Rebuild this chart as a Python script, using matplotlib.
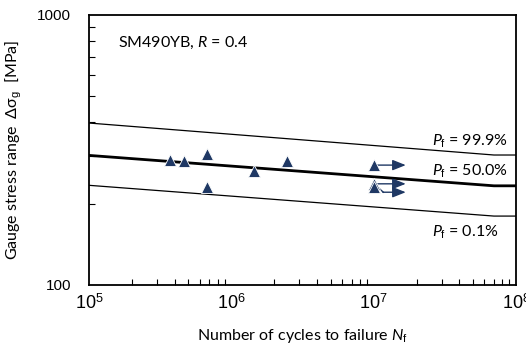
import numpy as np
import matplotlib
matplotlib.use("Agg")
import matplotlib.pyplot as plt
from matplotlib.ticker import LogLocator, NullFormatter, FixedLocator

# ---- data ----
fail_N = [3.7e5, 4.65e5, 6.7e5, 1.45e6, 2.47e6, 6.7e5]
fail_S = [290, 288, 305, 264, 289, 231]
runout_N = [1.0e7, 1.0e7, 1.0e7]
runout_S = [278, 237, 231]
curve_N = [1e5, 7e7, 1e8]
curve_999 = [398, 303, 303]
curve_500 = [302, 233, 233]
curve_001 = [234, 180, 180]
curve_labels = ["99.9%", "50.0%", "0.1%"]

navy = "#1F3864"
lab_font = ["Lato", "DejaVu Sans"]
tick_font = "Liberation Sans"
plt.rcParams["mathtext.fontset"] = "custom"
plt.rcParams["mathtext.rm"] = tick_font
plt.rcParams["mathtext.it"] = "Lato:italic"

fig = plt.figure(figsize=(5.26, 3.5), dpi=100)
ax = fig.add_axes([89/526, 65/350, 427/526, 270/350])
ax.set_xscale("log")
ax.set_yscale("log")
ax.set_xlim(1e5, 1e8)
ax.set_ylim(100, 1000)

ax.plot(curve_N, curve_999, color="black", lw=0.9)
ax.plot(curve_N, curve_500, color="black", lw=2.0)
ax.plot(curve_N, curve_001, color="black", lw=0.9)

# runout arrows
arr_len = 1.68
aprops = dict(arrowstyle="-|>,head_length=0.8,head_width=0.32",
              color=navy, lw=1.0, shrinkA=0, shrinkB=0)
for i, (n, s) in enumerate(zip(runout_N, runout_S)):
    if i == 2:
        ax.plot([n * 1.06, n * 1.17], [s, s * 0.955], color=navy, lw=1.0)
        ax.annotate("", xy=(n * arr_len, s * 0.955), xytext=(n * 1.16, s * 0.955),
                    arrowprops=aprops)
    else:
        ax.annotate("", xy=(n * arr_len, s), xytext=(n * 1.05, s),
                    arrowprops=aprops)

ax.plot(fail_N, fail_S, linestyle="none", marker="^", ms=8.5, color=navy,
        mec="white", mew=0.6, zorder=5)
ax.plot(runout_N, runout_S, linestyle="none", marker="^", ms=8.5, color=navy,
        mec="white", mew=0.6, zorder=5)

# curve labels
for lab, yy in zip(curve_labels, [0.516, 0.405, 0.18]):
    ax.text(0.803, yy, r"$P_{\mathrm{f}}$ = " + lab, transform=ax.transAxes,
            fontsize=11.5, family=lab_font, ha="left", va="baseline")

ax.text(0.068, 0.882, r"SM490YB, $R$ = 0.4", transform=ax.transAxes,
        fontsize=11.5, family=lab_font, ha="left", va="baseline")

# ticks
ax.xaxis.set_major_locator(FixedLocator([1e5, 1e6, 1e7, 1e8]))
ax.xaxis.set_minor_locator(LogLocator(base=10, subs=np.arange(2, 10)))
ax.xaxis.set_minor_formatter(NullFormatter())
ax.set_xticklabels([r"$10^{5}$", r"$10^{6}$", r"$10^{7}$", r"$10^{8}$"])
ax.yaxis.set_major_locator(FixedLocator([100, 1000]))
ax.yaxis.set_minor_locator(LogLocator(base=10, subs=np.arange(2, 10)))
ax.yaxis.set_minor_formatter(NullFormatter())
ax.set_yticklabels(["100", "1000"])
ax.tick_params(axis="both", which="both", direction="in", top=False, right=False)
ax.tick_params(axis="both", which="major", length=0)
ax.tick_params(axis="x", which="major", pad=6, labelsize=13)
ax.tick_params(axis="y", which="major", pad=13, labelsize=11)
ax.tick_params(axis="both", which="minor", length=4, width=0.8)
for lbl in ax.get_yticklabels():
    lbl.set_family(tick_font)
for sp in ax.spines.values():
    sp.set_linewidth(1.3)

ax.set_xlabel(r"Number of cycles to failure $N_{\mathrm{f}}$", fontsize=11.5,
              family=lab_font, labelpad=10)
ax.set_ylabel("Gauge stress range  Δσ$_{\\mathrm{g}}$  [MPa]", fontsize=11.5,
              family=lab_font, labelpad=9)

fig.savefig("out.png", dpi=100)
